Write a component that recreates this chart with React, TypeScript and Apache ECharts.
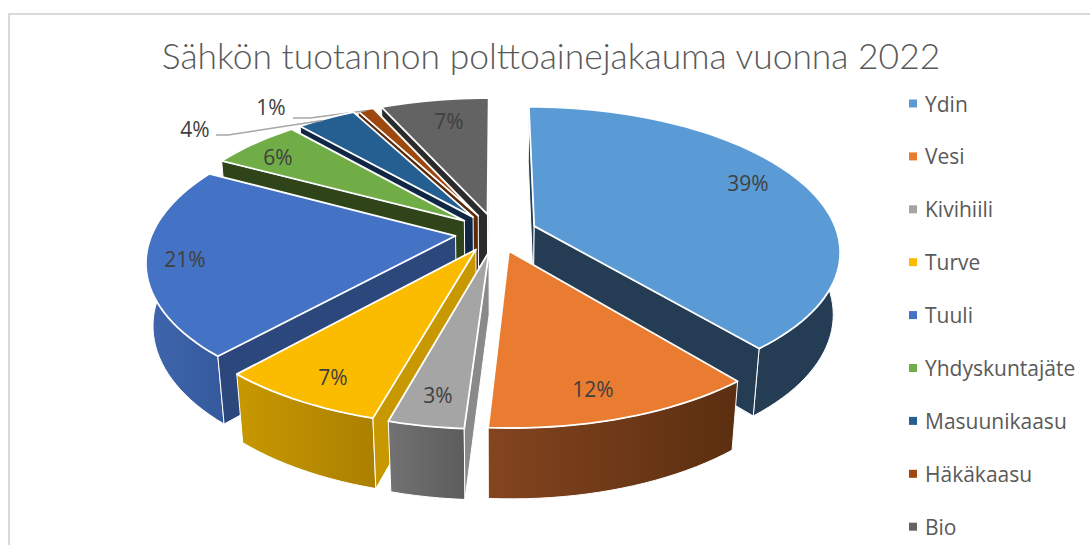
import React, { useEffect, useRef } from "react";
import * as echarts from "echarts";

const titleText = "Sähkön tuotannon polttoainejakauma vuonna 2022";
const categories = ["Ydin", "Vesi", "Kivihiili", "Turve", "Tuuli", "Yhdyskuntajäte", "Masuunikaasu", "Häkäkaasu", "Bio"];
const values = [39, 12, 3.33, 7.33, 21.14, 5.7, 3.7, 1.0, 6.8];
const topColors = ["#5b9bd5", "#e97c30", "#a5a5a5", "#fbbc00", "#4472c4", "#70ad47", "#255e91", "#9e480e", "#636363"];
const radialColors = ["#243c54", "#5c3010", "#8a8a8a", "#c89800", "#2b477c", "#2f4419", "#0f2744", "#5a2a0a", "#2b2b2b"];
const wallLeft = ["#243c54", "#84441f", "#727272", "#c89800", "#3f66ad", "#2f4419", "#0f2744", "#5a2a0a", "#2b2b2b"];
const wallRight = ["#243c54", "#5a2f10", "#5c5c5c", "#ab7f00", "#34599c", "#2f4419", "#0f2744", "#5a2a0a", "#2b2b2b"];

// label anchor in page pixels, with optional leader line start
const labelPos: [number, number][] = [[748, 183], [593, 389], [438, 395], [333, 377], [185, 259], [278, 157], [195, 129], [271, 107], [449, 121]];
const leaderPts: (number[][] | null)[] = [null, null, null, null, null, null, [[216, 135], [228, 135]], [[293, 118], [310, 118]], null];

const CX = 496, CY = 232.5, R = 303, A = 141, K = 0.165, M = 0.02, D = 63, E = 0.135;

function project(wx: number, wv: number, z: number): [number, number] {
  const d = 1 - K * wv + M * z;
  return [CX + (R * wx) / d, CY + (A * wv + D * z) / d];
}

const total = values.reduce((a, b) => a + b, 0);
const cumul: number[] = [];
values.reduce((acc, v, i) => { cumul[i] = acc; return acc + v; }, 0);

function sliceGeom(i: number) {
  const a0 = (cumul[i] / total) * Math.PI * 2;
  const a1 = ((cumul[i] + values[i]) / total) * Math.PI * 2;
  const b = (a0 + a1) / 2;
  const ox = E * Math.sin(b), ov = -E * Math.cos(b);
  const steps = Math.max(4, Math.round(((a1 - a0) * 180) / Math.PI / 2));
  const rim: [number, number][] = [];
  for (let s = 0; s <= steps; s++) {
    const t = a0 + ((a1 - a0) * s) / steps;
    rim.push([ox + Math.sin(t), ov - Math.cos(t)]);
  }
  return { b, ox, ov, rim };
}

function area(p: [number, number], q: [number, number], r: [number, number]) {
  return (q[0] - p[0]) * (r[1] - q[1]) - (q[1] - p[1]) * (r[0] - q[0]);
}

function renderSlice(i: number) {
  const { ox, ov, rim } = sliceGeom(i);
  const topRim = rim.map((p) => project(p[0], p[1], 0));
  const botRim = rim.map((p) => project(p[0], p[1], 1));
  const apexT = project(ox, ov, 0);
  const apexB = project(ox, ov, 1);
  const children: any[] = [];
  const edge = { stroke: "#ffffff", lineWidth: 1, lineJoin: "round" };

  children.push({
    type: "polygon",
    shape: { points: [...topRim, ...[...botRim].reverse()] },
    style: {
      ...edge,
      fill: new echarts.graphic.LinearGradient(0, 0, 1, 0, [
        { offset: 0, color: wallLeft[i] },
        { offset: 1, color: wallRight[i] },
      ]),
    },
  });

  const n = rim.length - 1;
  if (area(apexT, topRim[0], botRim[0]) < 0) {
    children.push({ type: "polygon", shape: { points: [apexT, topRim[0], botRim[0], apexB] }, style: { ...edge, fill: radialColors[i] } });
  }
  if (area(apexT, topRim[n], botRim[n]) > 0) {
    children.push({ type: "polygon", shape: { points: [apexT, topRim[n], botRim[n], apexB] }, style: { ...edge, fill: radialColors[i] } });
  }
  children.push({
    type: "polygon",
    shape: { points: [apexT, ...topRim] },
    style: { fill: topColors[i], stroke: "#ffffff", lineWidth: 1.8, lineJoin: "round" },
  });

  const lead = leaderPts[i];
  if (lead) {
    const mid = topRim[Math.floor(n / 2)];
    children.push({
      type: "polyline",
      shape: { points: [...lead, [mid[0], mid[1] + 1]] },
      style: { stroke: "#a6a6a6", lineWidth: 1.5, fill: "none" },
    });
  }
  children.push({
    type: "text",
    style: {
      x: labelPos[i][0],
      y: labelPos[i][1],
      text: `${Math.round(values[i])}%`,
      fill: "#404040",
      font: '21px "Open Sans", sans-serif',
      align: "center",
      verticalAlign: "middle",
    },
  });
  return { type: "group", children };
}

const drawOrder = categories
  .map((_, i) => i)
  .sort((p, q) => sliceGeom(p).ov - sliceGeom(q).ov);

export default function App() {
  const ref = useRef<HTMLDivElement>(null);
  useEffect(() => {
    document.body.style.margin = "0";
    const chart = echarts.init(ref.current!, undefined, { renderer: "svg" });
    chart.setOption({
      animation: false,
      backgroundColor: "#ffffff",
      title: {
        text: titleText,
        left: 546,
        top: 33,
        textAlign: "center",
        textStyle: { fontFamily: "Lato", fontWeight: 300, fontSize: 35.4, color: "#595959" },
      },
      legend: {
        orient: "vertical",
        left: 904,
        top: 88,
        icon: "rect",
        itemWidth: 8,
        itemHeight: 8,
        itemGap: 31.9,
        data: categories,
        textStyle: { fontFamily: "Open Sans", fontSize: 21, color: "#595959", padding: [0, 0, 0, 3] },
      },
      graphic: [
        { type: "polyline", shape: { points: [[9, 545], [9, 14], [1090, 14]] }, style: { stroke: "#d9d9d9", lineWidth: 2, fill: "none" }, silent: true },
      ],
      series: drawOrder.map((i, order) => ({
        type: "custom",
        name: categories[i],
        coordinateSystem: "none",
        z: 2 + order,
        silent: true,
        itemStyle: { color: topColors[i] },
        data: [[values[i]]],
        renderItem: () => renderSlice(i),
      })),
    });
    return () => chart.dispose();
  }, []);
  return <div ref={ref} style={{ position: "absolute", left: 0, top: 0, width: 1090, height: 545 }} />;
}
